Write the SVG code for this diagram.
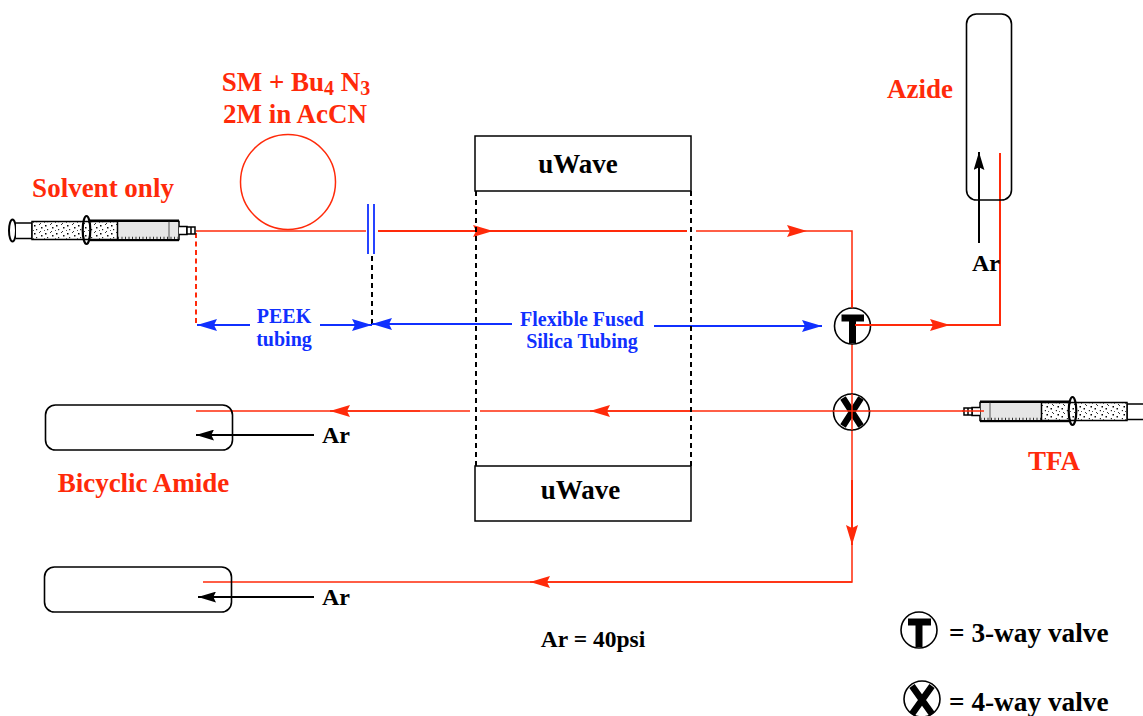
<svg xmlns="http://www.w3.org/2000/svg" width="1143" height="716" viewBox="0 0 1143 716">
<style>
text{font-family:"Liberation Serif","Times New Roman",serif;font-weight:bold}
.r{fill:#ff2a0a}.k{fill:#000}.b{fill:#1030ff}
.rl{stroke:#ff2a0a;stroke-width:2;fill:none}
.rt{stroke:#ff2a0a;stroke-width:1.5;fill:none}
.bl{stroke:#1030ff;stroke-width:2;fill:none}
.kl{stroke:#000;stroke-width:2;fill:none}
.d{stroke:#000;stroke-width:2;fill:none;stroke-dasharray:5 4}
.box{fill:#fff;stroke:#000;stroke-width:1.5}
.valve{fill:#fff;stroke:#000;stroke-width:1.6}
.vl{stroke:#000;stroke-width:7;fill:none}
.vx{stroke:#000;stroke-width:6.5;fill:none}
.vessel{fill:none;stroke:#000;stroke-width:1.6}
</style>
<defs>
<pattern id="st" width="11" height="8" patternUnits="userSpaceOnUse">
<rect x="1" y="1" width="1.500" height="1.500" fill="#000"/><rect x="6" y="0" width="1" height="1" fill="#333"/><rect x="8" y="3" width="1.500" height="1.500" fill="#111"/><rect x="3" y="5" width="1.200" height="1.200" fill="#222"/><rect x="0" y="6" width="1" height="1" fill="#555"/><rect x="7" y="7" width="1" height="1" fill="#333"/>
</pattern>
<marker id="ar" viewBox="0 0 20 12" refX="20" refY="6" markerWidth="20" markerHeight="12" markerUnits="userSpaceOnUse" orient="auto"><path d="M0 0L20 6L0 12L3 6Z" fill="#ff2a0a"/></marker>
<marker id="ab" viewBox="0 0 20 12" refX="20" refY="6" markerWidth="20" markerHeight="12" markerUnits="userSpaceOnUse" orient="auto"><path d="M0 0L20 6L0 12L3 6Z" fill="#1030ff"/></marker>
<marker id="ak" viewBox="0 0 20 12" refX="20" refY="6" markerWidth="18" markerHeight="11" markerUnits="userSpaceOnUse" orient="auto"><path d="M0 0L20 6L0 12L3 6Z" fill="#000"/></marker>
<g id="syr">
<ellipse cx="12.500" cy="230.500" rx="3.500" ry="11" fill="#fff" stroke="#000" stroke-width="2"/>
<path d="M16 223H32V238.500H16" fill="#fff" stroke="#000" stroke-width="1.500"/>
<rect x="32" y="221.500" width="147" height="18" fill="#fff" stroke="#000" stroke-width="1.500"/>
<rect x="33" y="222" width="85" height="17" fill="url(#st)"/>
<rect x="118" y="222" width="60" height="17" fill="#e6e6e6"/>
<path d="M117.500 221V240" stroke="#000" stroke-width="1.500"/>
<path d="M169 221V240" stroke="#555" stroke-width="1"/>
<path d="M118 238H178" stroke="#333" stroke-width="2.500" stroke-dasharray="1 2.500"/>
<rect x="90" y="219.500" width="89" height="2.200" fill="#000"/>
<rect x="90" y="239" width="89" height="2.200" fill="#000"/>
<ellipse cx="86.500" cy="230" rx="3.800" ry="14" fill="none" stroke="#000" stroke-width="2.200"/>
<path d="M179 226.500H187V234.500H179" fill="#fff" stroke="#000" stroke-width="1.500"/>
<rect x="187" y="227" width="8" height="7" fill="#fff" stroke="#000" stroke-width="1.500"/>
<path d="M191 227V234" stroke="#000" stroke-width="1.500"/>
</g>
</defs>

<g id="connectors">
<path class="rt" d="M196 231H366"/>
<path class="rl" d="M378 231H687"/>
<path class="rl" d="M380 231H493" marker-end="url(#ar)"/>
<path class="rt" d="M696 231H807" marker-end="url(#ar)"/>
<path class="rt" d="M807 231H852V582H203"/>
<path class="rl" d="M852 480V545" marker-end="url(#ar)"/>
<path class="rt" d="M852 582H530" marker-end="url(#ar)"/>
<path class="rl" d="M855 325H950" marker-end="url(#ar)"/>
<path class="rl" d="M940 325H1000V153"/>
<path class="rt" d="M852 411H480"/>
<path class="rt" d="M983 411H852"/>
<path class="rt" d="M690 411H590" marker-end="url(#ar)"/>
<path class="rt" d="M470 411H196"/>
<path class="rt" d="M420 411H330" marker-end="url(#ar)"/>
<path class="rl" d="M196 233V324" stroke-dasharray="5 3.500"/>
<path class="d" d="M372 256V325"/>
<path class="bl" d="M250 325H197" marker-end="url(#ab)"/>
<path class="bl" d="M320 325H372" marker-end="url(#ab)"/>
<path class="bl" d="M512 324H372" marker-end="url(#ab)"/>
<path class="bl" d="M654 326H822" marker-end="url(#ab)"/>
<path class="d" d="M476 191V466"/>
<path class="d" d="M691 191V466"/>
<path d="M368 204V254M374 204V254" stroke="#1030ff" stroke-width="1.800" fill="none"/>
<path class="kl" d="M979 243V152" marker-end="url(#ak)"/>
<path class="kl" d="M314 435H196" marker-end="url(#ak)"/>
<path class="kl" d="M314 597H198" marker-end="url(#ak)"/>
</g>

<g id="coil"><circle cx="288" cy="182" r="47.500" fill="none" stroke="#ff2a0a" stroke-width="1.500"/></g>
<g id="syringe-left"><use href="#syr"/></g>
<g id="syringe-tfa"><use href="#syr" transform="translate(1159 181) scale(-1 1)"/><path class="rt" d="M962 411H984"/></g>

<g id="uwave-top"><rect class="box" x="475" y="136" width="216" height="55"/><text x="578" y="173" font-size="27" text-anchor="middle" class="k">uWave</text></g>
<g id="uwave-bottom"><rect class="box" x="475" y="466" width="216" height="55"/><text x="580.500" y="499" font-size="27" text-anchor="middle" class="k">uWave</text></g>

<g id="vessel-azide"><rect class="vessel" x="966.500" y="14" width="45" height="186" rx="10"/></g>
<g id="vessel-amide"><rect class="vessel" x="45.500" y="405" width="187" height="45" rx="10"/></g>
<g id="vessel-lower"><rect class="vessel" x="44.500" y="567" width="187" height="45" rx="10"/></g>

<g id="valve-t"><circle class="valve" cx="852.500" cy="326" r="18"/><path class="vl" d="M852.500 318V343"/><path class="vl" d="M841.500 318H864"/><path class="rt" d="M852 290V308"/><path class="rl" d="M855 325H872"/></g>
<g id="valve-x"><circle class="valve" cx="851.500" cy="412" r="18"/><path class="vx" d="M843 398L861 426M861 398L843 426"/><path class="rt" d="M833 411H870M852 394V430"/></g>

<g id="legend-t"><circle class="valve" cx="919" cy="630" r="18"/><path class="vl" d="M919 622V647"/><path class="vl" d="M908 622H931"/><text x="949" y="642" font-size="27.300" class="k">= 3-way valve</text></g>
<g id="legend-x"><circle class="valve" cx="922" cy="699" r="18"/><path class="vx" d="M912 686L932 714M932 686L912 714"/><text x="949" y="711" font-size="27.300" class="k">= 4-way valve</text></g>

<g id="labels">
<text x="296" y="91" font-size="27" text-anchor="middle" class="r">SM + Bu<tspan font-size="20" dy="4">4</tspan><tspan dy="-4"> N</tspan><tspan font-size="20" dy="4">3</tspan></text>
<text x="295" y="123" font-size="27" text-anchor="middle" class="r">2M in AcCN</text>
<text x="103" y="197" font-size="27" text-anchor="middle" class="r">Solvent only</text>
<text x="920" y="98" font-size="27" text-anchor="middle" class="r">Azide</text>
<text x="1054" y="470" font-size="27" text-anchor="middle" class="r">TFA</text>
<text x="143.500" y="492" font-size="27" text-anchor="middle" class="r">Bicyclic Amide</text>
<text x="284" y="323" font-size="20" text-anchor="middle" class="b">PEEK</text>
<text x="284" y="346" font-size="20" text-anchor="middle" class="b">tubing</text>
<text x="582" y="326" font-size="20" text-anchor="middle" class="b">Flexible Fused</text>
<text x="582" y="348" font-size="20" text-anchor="middle" class="b">Silica Tubing</text>
<text x="986" y="271" font-size="24" text-anchor="middle" class="k">Ar</text>
<text x="336" y="443" font-size="24" text-anchor="middle" class="k">Ar</text>
<text x="336" y="605" font-size="24" text-anchor="middle" class="k">Ar</text>
<text x="593" y="647" font-size="23.500" text-anchor="middle" class="k">Ar = 40psi</text>
</g>
</svg>
